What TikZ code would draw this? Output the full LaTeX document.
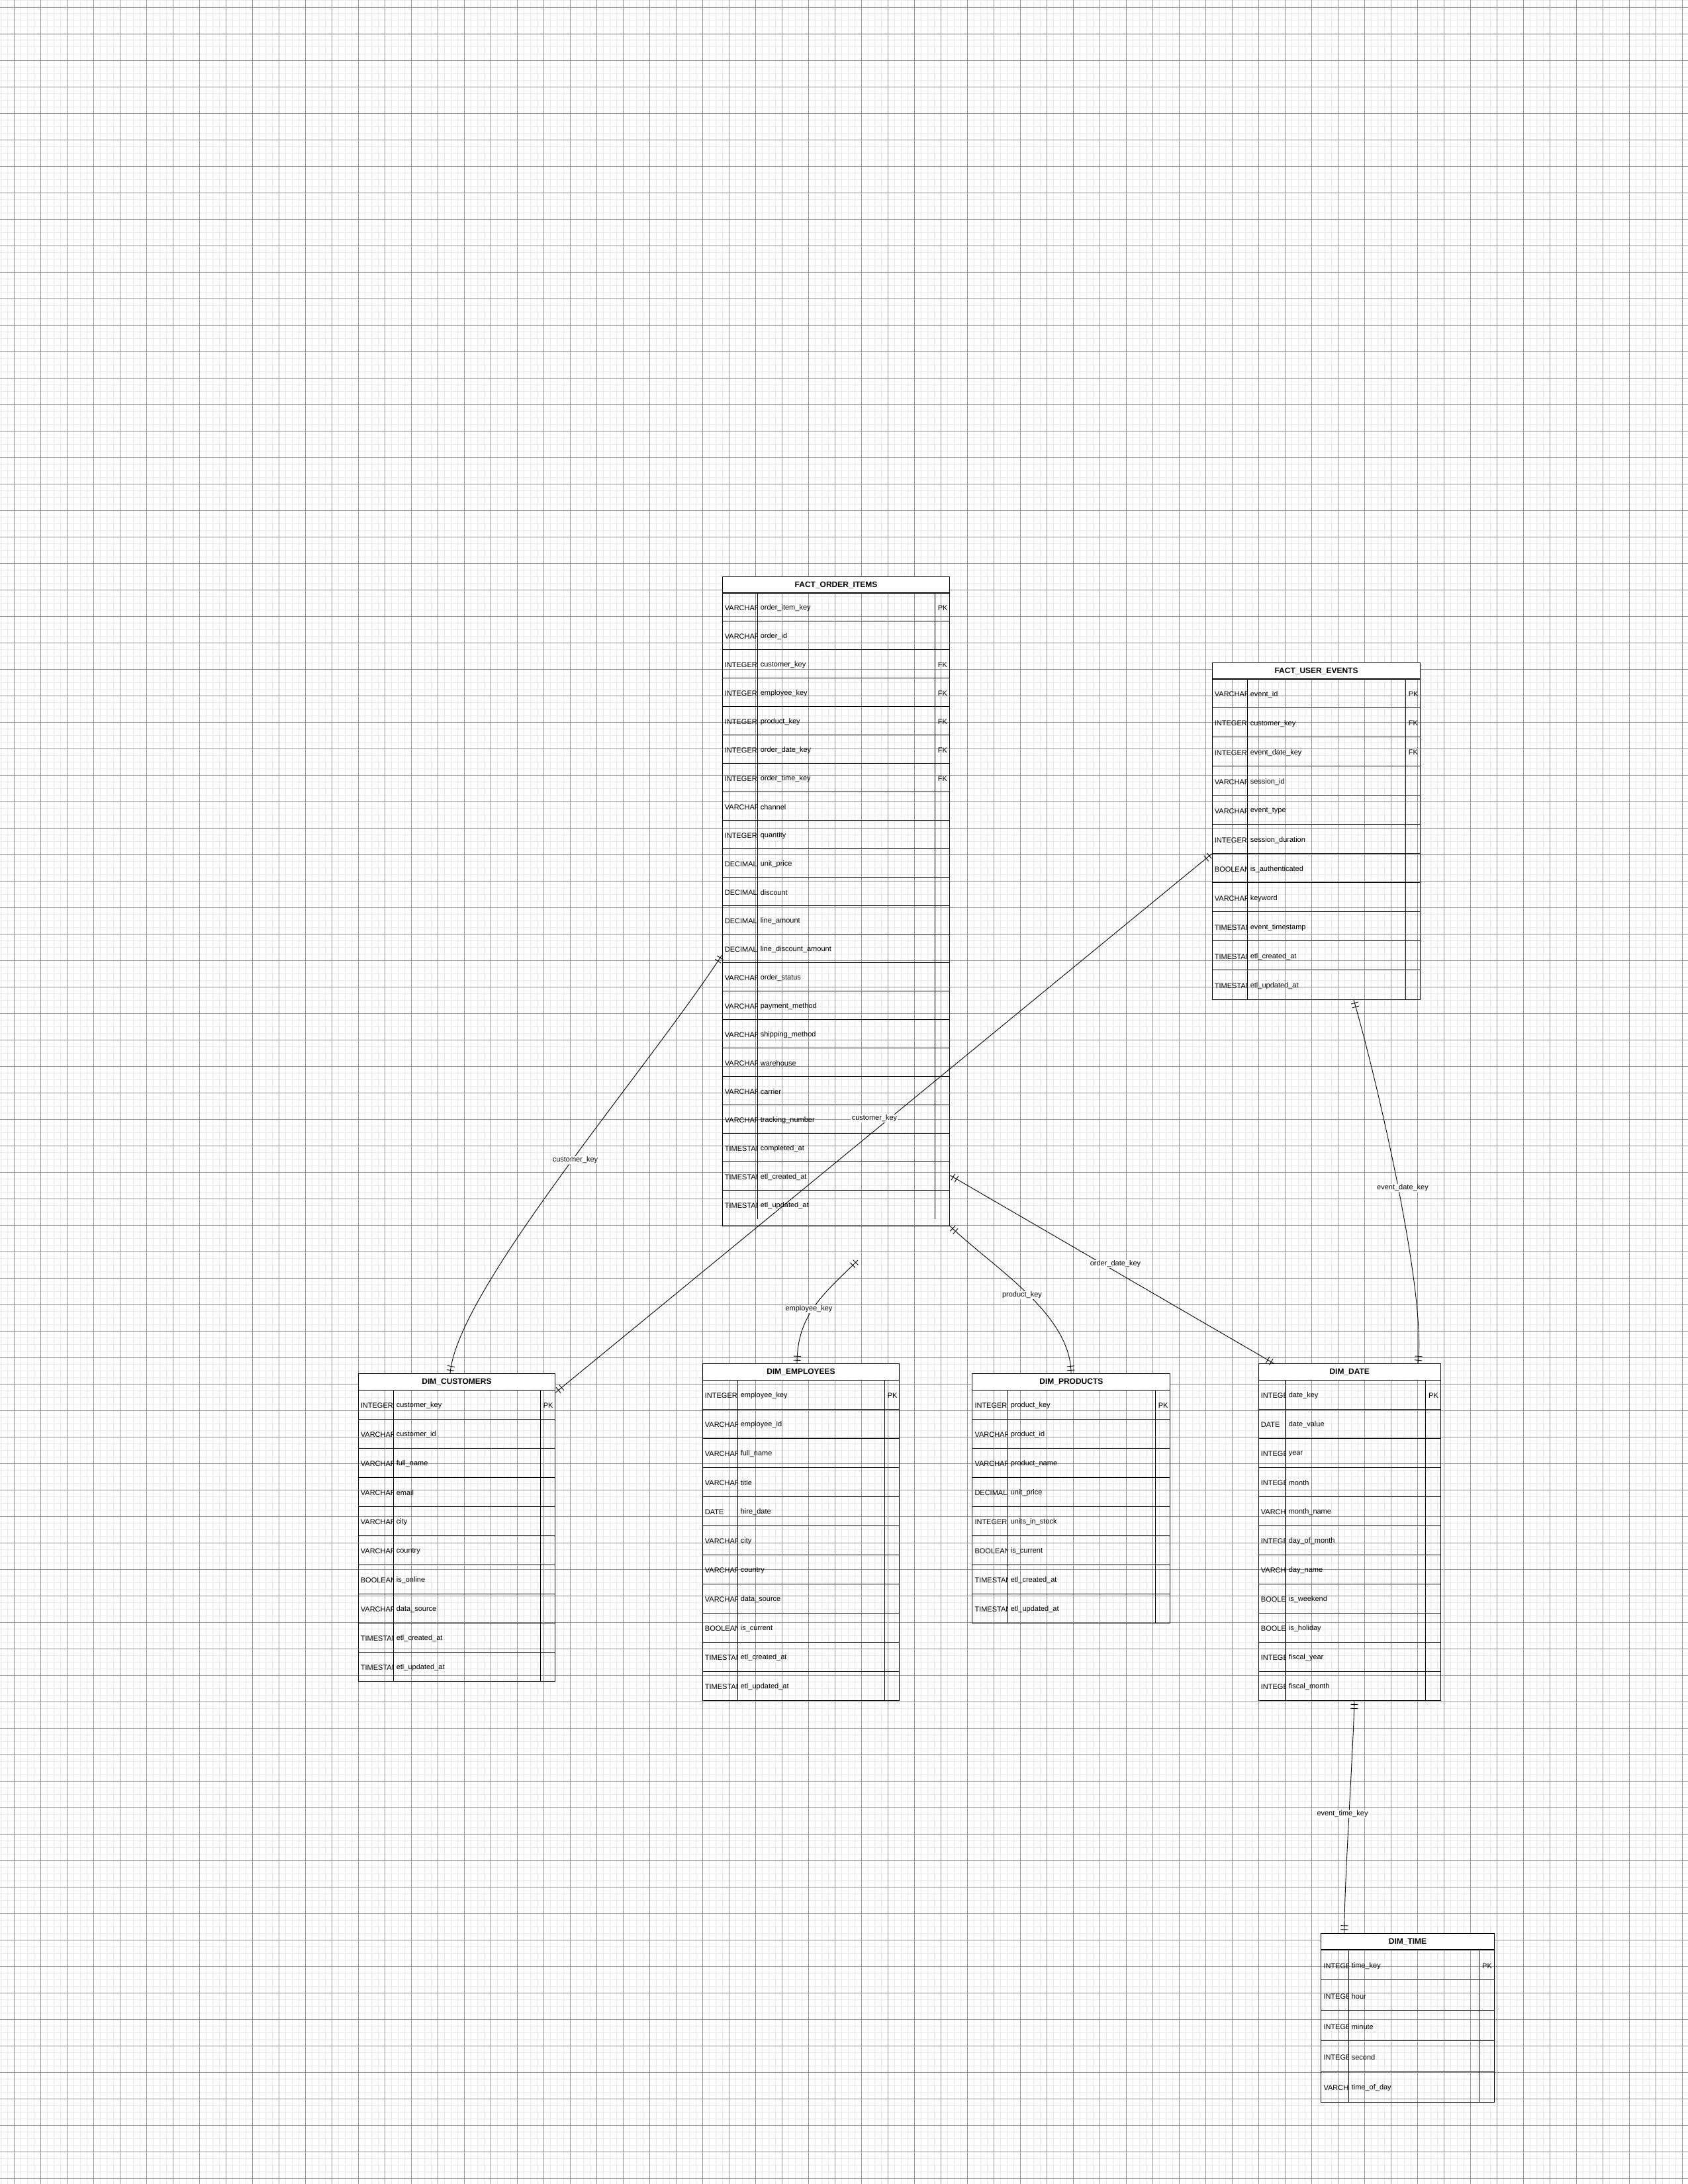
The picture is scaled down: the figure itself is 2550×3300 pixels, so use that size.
\documentclass[tikz,border=0pt]{standalone}
\usepackage{fontspec}
\setmainfont{Liberation Sans}
\usetikzlibrary{calc,decorations.markings}
\definecolor{gridminor}{RGB}{232,232,232}
\definecolor{gridmajor}{RGB}{145,145,145}
\tikzset{
 tbl/.style={draw=black, line width=1.1pt, inner sep=0pt, rectangle},
 hdr/.style={draw=black, fill=white, line width=1.1pt, inner sep=0pt, rectangle, font=\fontsize{12}{14}\selectfont\bfseries},
 tline/.style={draw=black, line width=1.1pt},
 txt/.style={inner sep=0pt, font=\fontsize{11}{13}\selectfont, text=black},
 lbl/.style={fill=white, inner sep=1pt, font=\fontsize{11}{13}\selectfont, text=black},
 mone/.style={postaction={decorate,decoration={markings,
   mark=at position 5pt with {\draw[black,line width=0.9pt] (0pt,-5.5pt)--(0pt,5.5pt);},
   mark=at position 11pt with {\draw[black,line width=0.9pt] (0pt,-5.5pt)--(0pt,5.5pt);},
   mark=at position -5pt with {\draw[black,line width=0.9pt] (0pt,-5.5pt)--(0pt,5.5pt);},
   mark=at position -11pt with {\draw[black,line width=0.9pt] (0pt,-5.5pt)--(0pt,5.5pt);}}}},
 rel/.style={draw=black, line width=0.9pt, mone},
 gmin/.style={draw=gridminor, line width=1pt},
 gmaj/.style={draw=gridmajor, line width=0.7pt},
}
% #1 id, #2 title, #3 x, #4 y, #5 width, #6 height, #7 row height, #8 type width, #9 rows
\newcommand{\ertab}[9]{%
  \node[tbl, minimum width=#5pt, minimum height=#6pt, anchor=north west] (#1) at (#3,#4) {};
  \node[hdr, minimum width=#5pt, minimum height=25pt, anchor=north west] (#1-h) at (#3,#4) {#2};
  \foreach \ty/\nm/\ky [count=\i] in {#9} {
    \pgfmathsetmacro\rowT{#4+25+(\i-1)*#7}
    \pgfmathsetmacro\rowB{\rowT+#7}
    \pgfmathsetmacro\rowM{\rowT+#7/2+1.5}
    \draw[tline] (#3,\rowT) -- (#3+#5,\rowT);
    \draw[tline] (#3+#8,\rowT) -- (#3+#8,\rowB);
    \draw[tline] (#3+#5-22,\rowT) -- (#3+#5-22,\rowB);
    \begin{scope}
      \clip (#3,\rowT) rectangle (#3+#8,\rowB);
      \node[txt, anchor=west] (#1-\i-t) at (#3+4,\rowM) {\ty};
    \end{scope}
    \node[txt, anchor=west] (#1-\i-n) at (#3+#8+4.3,\rowM) {\nm};
    \node[txt, anchor=west] (#1-\i-k) at (#3+#5-22+4.3,\rowM) {\ky};
  }
}
\catcode`\_=12
\begin{document}
\begin{tikzpicture}[x=1pt,y=-1pt]
\useasboundingbox (0,0) rectangle (2550,3300);
% grid
\foreach \g in {1,11,...,2551} \draw[gmin] (\g,0) -- (\g,3300);
\foreach \g in {1,11,...,3301} \draw[gmin] (0,\g) -- (2550,\g);
\foreach \g in {21,61,...,2541} \draw[gmaj] (\g,0) -- (\g,3300);
\foreach \g in {11,51,...,3291} \draw[gmaj] (0,\g) -- (2550,\g);

\ertab{foi}{FACT_ORDER_ITEMS}{1090.7}{870.7}{343.6}{981}{43}{53.6}{%
VARCHAR/order_item_key/PK,VARCHAR/order_id/{},INTEGER/customer_key/FK,INTEGER/employee_key/FK,%
INTEGER/product_key/FK,INTEGER/order_date_key/FK,INTEGER/order_time_key/FK,VARCHAR/channel/{},%
INTEGER/quantity/{},DECIMAL/unit_price/{},DECIMAL/discount/{},DECIMAL/line_amount/{},%
DECIMAL/line_discount_amount/{},VARCHAR/order_status/{},VARCHAR/payment_method/{},%
VARCHAR/shipping_method/{},VARCHAR/warehouse/{},VARCHAR/carrier/{},VARCHAR/tracking_number/{},%
TIMESTAMP/completed_at/{},TIMESTAMP/etl_created_at/{},TIMESTAMP/etl_updated_at/{}}

\ertab{fue}{FACT_USER_EVENTS}{1830.7}{1000.7}{314.6}{509}{44}{53.6}{%
VARCHAR/event_id/PK,INTEGER/customer_key/FK,INTEGER/event_date_key/FK,VARCHAR/session_id/{},%
VARCHAR/event_type/{},INTEGER/session_duration/{},BOOLEAN/is_authenticated/{},VARCHAR/keyword/{},%
TIMESTAMP/event_timestamp/{},TIMESTAMP/etl_created_at/{},TIMESTAMP/etl_updated_at/{}}

\ertab{dcu}{DIM_CUSTOMERS}{540.7}{2075.3}{297.6}{465}{44}{53.6}{%
INTEGER/customer_key/PK,VARCHAR/customer_id/{},VARCHAR/full_name/{},VARCHAR/email/{},%
VARCHAR/city/{},VARCHAR/country/{},BOOLEAN/is_online/{},VARCHAR/data_source/{},%
TIMESTAMP/etl_created_at/{},TIMESTAMP/etl_updated_at/{}}

\ertab{dem}{DIM_EMPLOYEES}{1060.7}{2060.3}{297.6}{509}{44}{53.6}{%
INTEGER/employee_key/PK,VARCHAR/employee_id/{},VARCHAR/full_name/{},VARCHAR/title/{},%
DATE/hire_date/{},VARCHAR/city/{},VARCHAR/country/{},VARCHAR/data_source/{},%
BOOLEAN/is_current/{},TIMESTAMP/etl_created_at/{},TIMESTAMP/etl_updated_at/{}}

\ertab{dpr}{DIM_PRODUCTS}{1468.3}{2075.3}{299}{377}{44}{54}{%
INTEGER/product_key/PK,VARCHAR/product_id/{},VARCHAR/product_name/{},DECIMAL/unit_price/{},%
INTEGER/units_in_stock/{},BOOLEAN/is_current/{},TIMESTAMP/etl_created_at/{},TIMESTAMP/etl_updated_at/{}}

\ertab{dda}{DIM_DATE}{1900.7}{2060.3}{275}{509}{44}{41.6}{%
INTEGER/date_key/PK,DATE/date_value/{},INTEGER/year/{},INTEGER/month/{},VARCHAR/month_name/{},%
INTEGER/day_of_month/{},VARCHAR/day_name/{},BOOLEAN/is_weekend/{},BOOLEAN/is_holiday/{},%
INTEGER/fiscal_year/{},INTEGER/fiscal_month/{}}

\ertab{dti}{DIM_TIME}{1995.3}{2920.7}{261.4}{255}{46}{42}{%
INTEGER/time_key/PK,INTEGER/hour/{},INTEGER/minute/{},INTEGER/second/{},VARCHAR/time_of_day/{}}

% connector end points
\coordinate (c1s) at ($(foi.north west)+(0,572.3)$);
\coordinate (c1e) at ($(dcu.north west)+(139.3,0)$);
\coordinate (c2s) at ($(fue.north west)+(0,289.3)$);
\coordinate (c2e) at ($(dcu.north east)+(0,28.7)$);
\coordinate (c3s) at (1296,1904);
\coordinate (c3e) at ($(dem.north west)+(143.3,0)$);
\coordinate (c4s) at (foi.south east);
\coordinate (c4e) at ($(dpr.north west)+(149.7,0)$);
\coordinate (c5s) at ($(foi.north east)+(0,905.3)$);
\coordinate (c5e) at ($(dda.north west)+(24,0)$);
\coordinate (c6s) at ($(fue.south west)+(214.3,0)$);
\coordinate (c6e) at ($(dda.north west)+(241.3,0)$);
\coordinate (c7s) at ($(dda.south west)+(145.3,0)$);
\coordinate (c7e) at ($(dti.north west)+(35.4,0)$);

\draw[rel] (c1s) .. controls (975,1620) and (690,1950) .. (c1e);
\draw[rel] (c2s) -- (c2e);
\draw[rel] (c3s) .. controls (1245,1955) and (1204,1985) .. (c3e);
\draw[rel] (c4s) .. controls (1500,1915) and (1618,1985) .. (c4e);
\draw[rel] (c5s) -- (c5e);
\draw[rel] (c6s) .. controls (2085,1650) and (2155,1960) .. (c6e);
\draw[rel] (c7s) .. controls (2044,2650) and (2031,2840) .. (c7e);

\node[lbl] (l1) at (869,1753) {customer_key};
\node[lbl] (l2) at (1321,1690) {customer_key};
\node[lbl] (l3) at (1222,1978) {employee_key};
\node[lbl] (l4) at (1544,1957) {product_key};
\node[lbl] (l5) at (1685,1910) {order_date_key};
\node[lbl] (l6) at (2119,1795) {event_date_key};
\node[lbl] (l7) at (2028,2741) {event_time_key};
\end{tikzpicture}
\end{document}
